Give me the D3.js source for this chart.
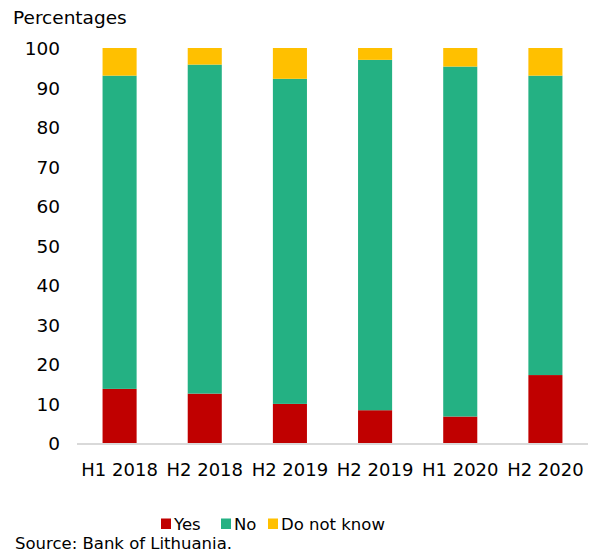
<!DOCTYPE html>
<html>
<head>
<meta charset="utf-8">
<script src="https://cdn.jsdelivr.net/npm/d3@7"></script>
<style>
  body { margin: 0; background: #fff; }
  text { font-family: Verdana, "DejaVu Sans", sans-serif; fill: #000; }
</style>
</head>
<body>
<svg id="chart" width="596" height="556"></svg>
<script>
// Survey periods and answer shares (percent)
const categories = ["H1 2018", "H2 2018", "H2 2019", "H2 2019", "H1 2020", "H2 2020"];
const yes = [13.7, 12.5, 9.9, 8.3, 6.7, 17.2];
const no = [79.3, 83.3, 82.3, 88.7, 88.6, 75.8];
const dontKnow = [7.0, 4.2, 7.8, 3.0, 4.7, 7.0];
const seriesNames = ["Yes", "No", "Do not know"];
const yTicks = [0, 10, 20, 30, 40, 50, 60, 70, 80, 90, 100];

const colors = ["#C00000", "#24B183", "#FFC000"];

const svg = d3.select("#chart");
const plotLeft = 77, plotRight = 588, plotTop = 48, plotBottom = 443;

const rows = categories.map((c, i) => ({ key: i, cat: c, Yes: yes[i], No: no[i], "Do not know": dontKnow[i] }));
const stacked = d3.stack().keys(seriesNames)(rows);

const x = d3.scaleBand().domain(rows.map(r => r.key)).range([plotLeft, plotRight])
  .paddingInner(0.6).paddingOuter(0.3);
const y = d3.scaleLinear().domain([0, 100]).range([plotBottom, plotTop]);

// Stacked bars
svg.append("g").selectAll("g").data(stacked).join("g")
  .attr("fill", (d, i) => colors[i])
  .selectAll("rect").data(d => d).join("rect")
  .attr("x", d => x(d.data.key))
  .attr("width", x.bandwidth())
  .attr("y", d => y(d[1]))
  .attr("height", d => y(d[0]) - y(d[1]));

// Baseline
svg.append("line")
  .attr("x1", plotLeft).attr("x2", plotRight)
  .attr("y1", y(0) + 1).attr("y2", y(0) + 1)
  .attr("stroke", "#d9d9d9").attr("stroke-width", 2);

// Y axis labels
const yAxis = d3.axisLeft(y).tickValues(yTicks).tickSize(0).tickPadding(0);
svg.append("g").attr("transform", "translate(60,1)").call(yAxis)
  .call(g => g.select(".domain").remove())
  .call(g => g.attr("font-family", null).attr("font-size", null))
  .selectAll("text").style("font-size", "18.5px");

// X axis labels
const xAxis = d3.axisBottom(x).tickFormat(k => categories[k]).tickSize(0).tickPadding(20);
svg.append("g").attr("transform", `translate(0,${plotBottom})`).call(xAxis)
  .call(g => g.select(".domain").remove())
  .call(g => g.attr("font-family", null).attr("font-size", null))
  .selectAll("text").style("font-size", "18px");

// Unit label
svg.append("text").attr("x", 13).attr("y", 24)
  .style("font-size", "18.5px").text("Percentages");

// Legend
const legendItems = [
  { name: seriesNames[0], color: colors[0], x: 161 },
  { name: seriesNames[1], color: colors[1], x: 221 },
  { name: seriesNames[2], color: colors[2], x: 268 }
];
const lg = svg.append("g").selectAll("g").data(legendItems).join("g")
  .attr("transform", d => `translate(${d.x},518.5)`);
lg.append("rect").attr("width", 10).attr("height", 10.5).attr("fill", d => d.color);
lg.append("text").attr("x", 13).attr("y", 11.5)
  .style("font-size", "16.5px").text(d => d.name);

// Source note
svg.append("text").attr("x", 15).attr("y", 548.5)
  .style("font-size", "16.5px").text("Source: Bank of Lithuania.");
</script>
</body>
</html>
